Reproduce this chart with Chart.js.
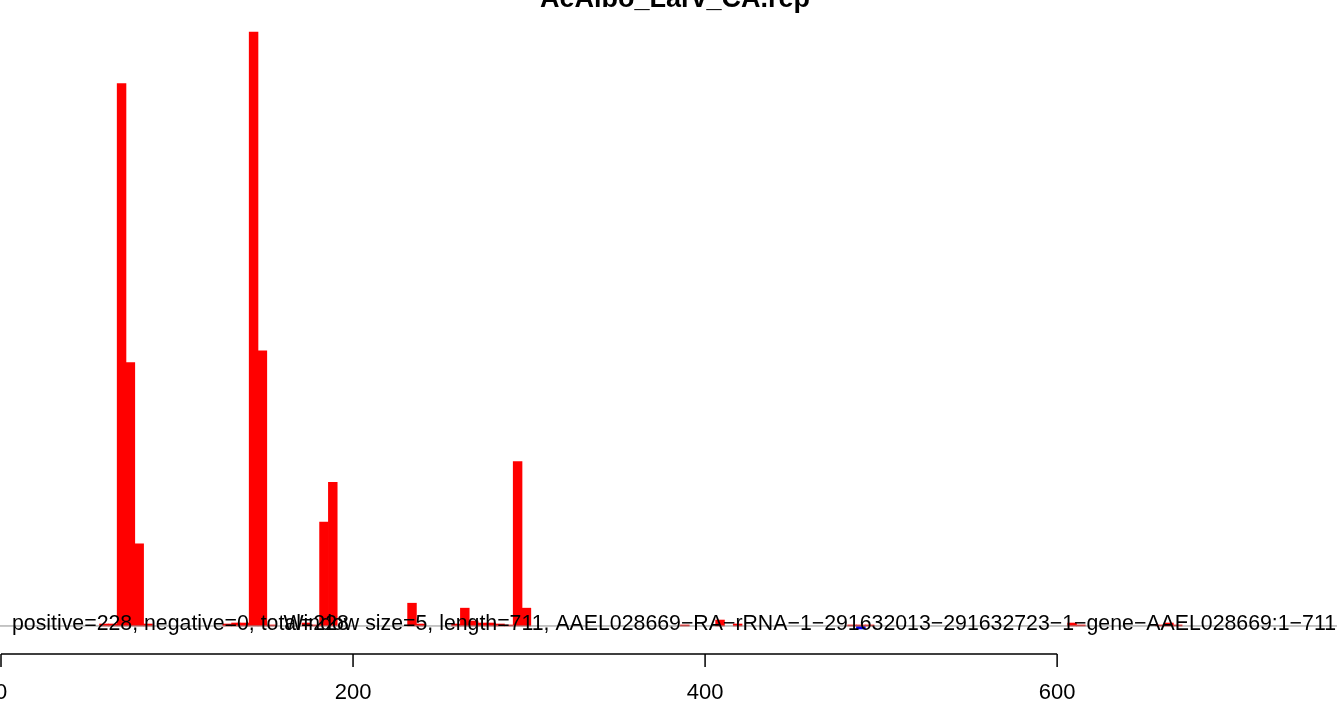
<!DOCTYPE html>
<html>
<head>
<meta charset="utf-8">
<title>AeAlbo_Larv_CA.rep</title>
<script src="https://cdn.jsdelivr.net/npm/chart.js@4/dist/chart.umd.min.js"></script>
<style>
  html, body { margin: 0; padding: 0; background: #fff; }
  #repChart { display: block; }
</style>
</head>
<body>
<canvas id="repChart" width="1337" height="701"></canvas>
<script>
// read counts per 5 bp window, keyed by window start (1-based)
const windowSize = 5;
const posStarts = [56, 61, 66, 71, 76, 81, 126, 131, 136, 141, 146, 151, 171, 176, 181, 186,
                   231, 236, 256, 261, 266, 271, 276, 281, 286, 291, 296,
                   386, 406, 416, 481, 486, 491, 606, 611, 656, 661, 666];
const posCounts = [0.2, 0.2, 54.8, 26.6, 8.3, 0.2, 0.2, 0.3, 0.3, 60, 27.8, 0.1, 0.3, 0.1, 10.5, 14.5,
                   2.3, 0.2, 0.2, 1.8, 0.5, 0.3, 0.3, 0.2, 0.1, 16.6, 1.8,
                   0.1, 0.6, 0.2, 0.1, 0.1, 0.1, 0.3, 0.1, 0.1, 0.3, 0.1];
const negStarts = [486];
const negCounts = [-0.3];
const xTicks = [0, 200, 400, 600];

const titleText = 'AeAlbo_Larv_CA.rep';
const statsText = 'positive=228, negative=0, total=228';
const infoText = 'Window size=5, length=711, AAEL028669\u2212RA\u2212rRNA\u22121\u2212291632013\u2212291632723\u22121\u2212gene\u2212AAEL028669:1\u2212711';
const fontName = '"Liberation Sans", Arial, Helvetica, sans-serif';

function toPoints(starts, counts) {
    return starts.map((s, i) => ({x: s + windowSize / 2, y: counts[i]}));
}

// baseline, labels, x axis and title, drawn the way R's base graphics did
const repOverlay = {
    id: 'repOverlay',
    afterDatasetsDraw(chart) {
        const {ctx, chartArea, scales: {x, y}} = chart;
        const y0 = y.getPixelForValue(0);
        ctx.save();

        ctx.strokeStyle = '#8c8c8c';
        ctx.lineWidth = 1;
        ctx.beginPath();
        ctx.moveTo(chartArea.left - 1, y0);
        ctx.lineTo(chartArea.right, y0);
        ctx.stroke();

        ctx.fillStyle = '#000';
        ctx.font = '21.3px ' + fontName;
        ctx.textBaseline = 'alphabetic';
        ctx.textAlign = 'left';
        ctx.fillText(statsText, 12, y0 + 4);
        ctx.textAlign = 'right';
        ctx.fillText(infoText, chartArea.right - 1, y0 + 4);

        // x axis only spans first..last tick
        const axisY = chartArea.bottom;
        ctx.strokeStyle = '#000';
        ctx.lineWidth = 1.5;
        ctx.beginPath();
        ctx.moveTo(x.getPixelForValue(xTicks[0]), axisY);
        ctx.lineTo(x.getPixelForValue(xTicks[xTicks.length - 1]), axisY);
        xTicks.forEach(v => {
            const px = x.getPixelForValue(v);
            ctx.moveTo(px, axisY);
            ctx.lineTo(px, axisY + 13);
        });
        ctx.stroke();

        ctx.font = '22px ' + fontName;
        ctx.textAlign = 'center';
        xTicks.forEach(v => {
            ctx.fillText(String(v), x.getPixelForValue(v), 699);
        });

        ctx.font = 'bold 27px ' + fontName;
        ctx.fillText(titleText, 675, 7);
        ctx.restore();
    }
};

new Chart(document.getElementById('repChart'), {
    type: 'bar',
    data: {
        datasets: [{
            label: 'positive',
            data: toPoints(posStarts, posCounts),
            backgroundColor: '#ff0000',
            borderWidth: 0
        }, {
            label: 'negative',
            data: toPoints(negStarts, negCounts),
            backgroundColor: '#0000ff',
            borderWidth: 0
        }]
    },
    options: {
        responsive: false,
        animation: false,
        grouped: false,
        barPercentage: 1,
        categoryPercentage: 1,
        layout: {padding: {left: 1, right: 0, top: 0, bottom: 47}},
        plugins: {
            legend: {display: false},
            tooltip: {enabled: false},
            title: {display: false}
        },
        scales: {
            x: {type: 'linear', min: 0, max: 759, offset: false, display: false},
            y: {min: -2.83, max: 63.23, display: false}
        }
    },
    plugins: [repOverlay]
});
</script>
</body>
</html>
